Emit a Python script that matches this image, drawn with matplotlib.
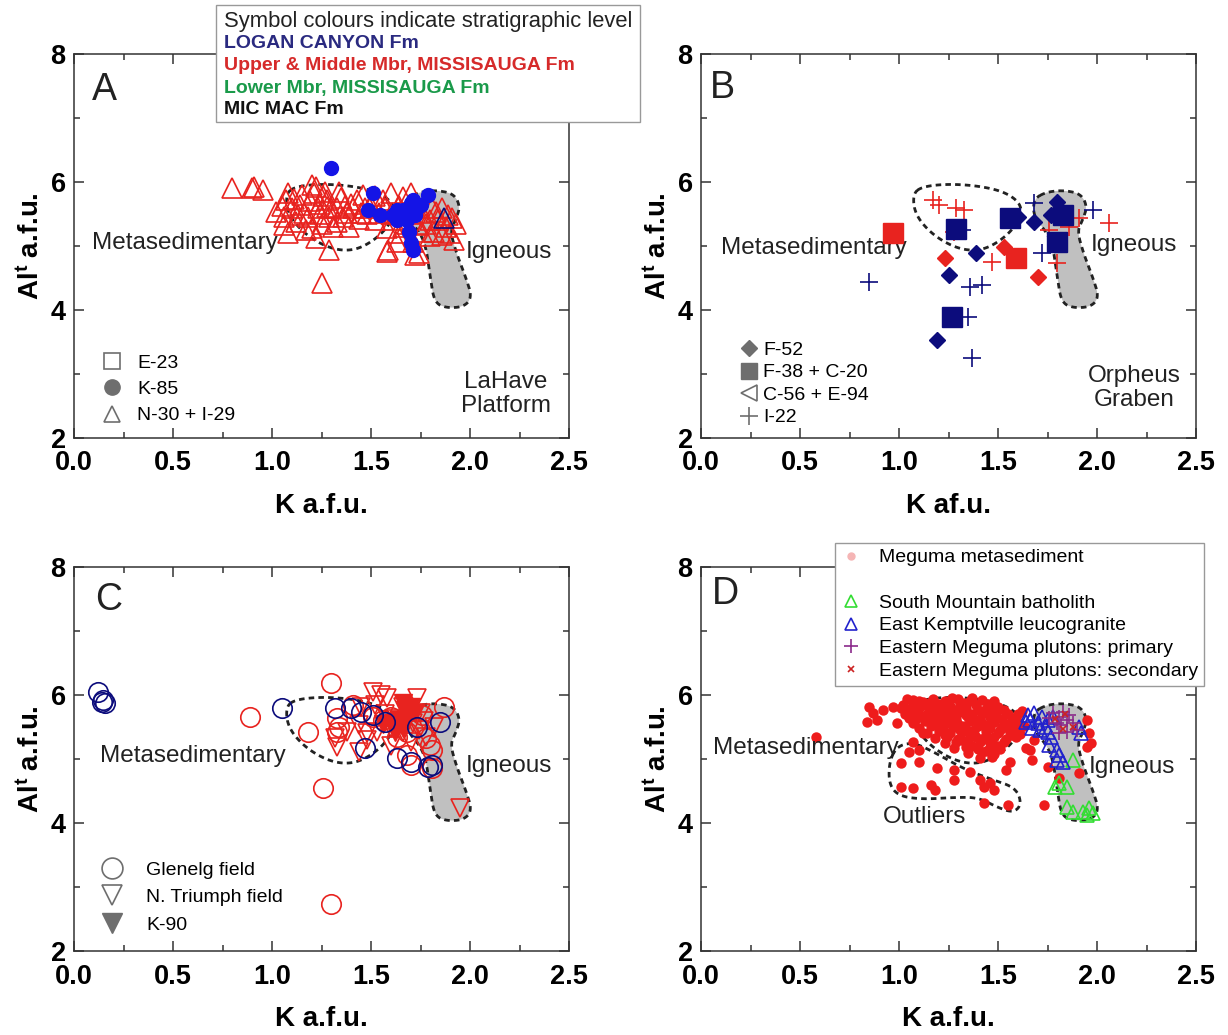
import numpy as np
import matplotlib
matplotlib.use('Agg')
import matplotlib.pyplot as plt
from matplotlib.lines import Line2D
from matplotlib.patches import Rectangle

plt.rcParams['font.family'] = ['Liberation Sans', 'DejaVu Sans']
plt.rcParams['mathtext.fontset'] = 'custom'
plt.rcParams['mathtext.rm'] = 'Liberation Sans'
plt.rcParams['mathtext.bf'] = 'Liberation Sans:bold'
plt.rcParams['mathtext.default'] = 'bf'

RED = '#e8231f'
BLUE = '#1414e6'
NAVY = '#0c0c7c'
GREEN = '#33dd33'
KBLUE = '#2222cc'
PURPLE = '#8b2a8b'
GREY = '#6e6e6e'
FILL = '#c0c0c0'

x_ticks = [0.0, 0.5, 1.0, 1.5, 2.0, 2.5]
x_tick_labels = ['0.0', '0.5', '1.0', '1.5', '2.0', '2.5']
y_ticks = [2, 4, 6, 8]
y_tick_labels = ['2', '4', '6', '8']

# ---- field outlines (K, Al) ----
igneous_field = [(1.68, 5.74), (1.75, 5.85), (1.84, 5.87), (1.92, 5.81), (1.95, 5.62),
                 (1.93, 5.42), (1.90, 5.24), (1.93, 4.90), (1.98, 4.50), (2.01, 4.20),
                 (1.97, 4.05), (1.88, 4.03), (1.82, 4.12), (1.80, 4.50), (1.78, 4.95),
                 (1.75, 5.20), (1.68, 5.45)]
metased_field = [(1.07, 5.82), (1.12, 5.93), (1.25, 5.97), (1.40, 5.94), (1.53, 5.85),
                 (1.61, 5.68), (1.62, 5.48), (1.56, 5.20), (1.46, 4.98), (1.37, 4.92),
                 (1.27, 4.99), (1.16, 5.20), (1.08, 5.50)]
outlier_field = [(0.99, 5.20), (0.95, 4.95), (0.95, 4.60), (1.00, 4.42), (1.12, 4.37),
                 (1.28, 4.40), (1.40, 4.40), (1.50, 4.24), (1.58, 4.16), (1.62, 4.30),
                 (1.59, 4.55), (1.47, 4.68), (1.33, 4.84), (1.17, 5.12), (1.07, 5.26)]

# ---- Panel A: LaHave Platform ----
a_n30_red = [(0.80, 5.91), (0.90, 5.91), (0.955, 5.88), (1.29, 4.94), (1.25, 4.42),
             (1.58, 4.91), (1.585, 4.93), (1.72, 4.86),
             (0.91, 5.92), (1.08, 5.83), (1.07, 5.72), (1.02, 5.53), (1.06, 5.45), (1.06, 5.33),
             (1.13, 5.48), (1.14, 5.64), (1.22, 5.92), (1.21, 5.83), (1.27, 5.85), (1.28, 5.72),
             (1.28, 5.61), (1.23, 5.59), (1.18, 5.45), (1.20, 5.28), (1.29, 5.45), (1.33, 5.38),
             (1.33, 5.59), (1.38, 5.52), (1.39, 5.30), (1.43, 5.72), (1.41, 5.59), (1.47, 5.59),
             (1.54, 5.52), (1.56, 5.72), (1.60, 5.83), (1.66, 5.77), (1.63, 5.20), (1.66, 5.30),
             (1.73, 5.33), (1.76, 5.22), (1.80, 5.41), (1.82, 5.22), (1.86, 5.17), (1.90, 5.20),
             (1.89, 5.48), (1.91, 5.44), (1.83, 5.53), (1.81, 5.59), (1.74, 4.89), (1.71, 5.06),
             (1.63, 5.06), (1.58, 5.28), (1.61, 5.41), (1.76, 5.52), (1.70, 5.83),
             (1.10, 5.60), (1.12, 5.38), (1.15, 5.80), (1.16, 5.52), (1.19, 5.70), (1.24, 5.50),
             (1.25, 5.35), (1.26, 5.78), (1.30, 5.60), (1.31, 5.30), (1.35, 5.75), (1.36, 5.45),
             (1.40, 5.65), (1.44, 5.42), (1.46, 5.80), (1.48, 5.50), (1.50, 5.62), (1.52, 5.40),
             (1.57, 5.60), (1.60, 5.50), (1.64, 5.62), (1.68, 5.35), (1.70, 5.50), (1.72, 5.60),
             (1.78, 5.35), (1.80, 5.15), (1.84, 5.40), (1.86, 5.60), (1.88, 5.30), (1.92, 5.10),
             (1.93, 5.35), (1.20, 5.95), (1.08, 5.20), (1.17, 5.25), (1.22, 5.12), (1.05, 5.62),
             (1.11, 5.74), (1.24, 5.66), (1.34, 5.84), (1.37, 5.62), (1.45, 5.52), (1.52, 5.78)]
a_n30_navy = [(1.87, 5.44)]
a_k85_blue = [(1.30, 6.22), (1.51, 5.83), (1.485, 5.56), (1.545, 5.48), (1.61, 5.48),
              (1.63, 5.41), (1.66, 5.56), (1.70, 5.67), (1.71, 5.72), (1.73, 5.59),
              (1.68, 5.41), (1.79, 5.80), (1.69, 5.22), (1.70, 5.05), (1.71, 4.94),
              (1.63, 5.56), (1.75, 5.64), (1.72, 5.48), (1.66, 5.45)]

# ---- Panel B: Orpheus Graben ----
b_f52_navy = [(1.60, 5.45), (1.68, 5.38), (1.39, 4.89), (1.25, 4.55), (1.80, 5.69),
              (1.77, 5.48), (1.19, 3.53)]
b_f52_red = [(1.23, 4.81), (1.53, 4.98), (1.70, 4.52)]
b_f38_navy = [(1.29, 5.27), (1.56, 5.44), (1.80, 5.06), (1.83, 5.48), (1.27, 3.89)]
b_f38_red = [(0.97, 5.20), (1.59, 4.81)]
b_i22_navy = [(0.85, 4.44), (1.36, 4.36), (1.42, 4.39), (1.35, 3.89), (1.37, 3.25),
              (1.68, 5.67), (1.72, 4.89), (1.98, 5.56), (1.32, 5.25)]
b_i22_red = [(1.17, 5.72), (1.20, 5.64), (1.29, 5.59), (1.33, 5.56), (1.28, 5.22),
             (1.47, 4.75), (1.79, 5.45), (1.76, 5.25), (1.86, 5.30), (1.91, 5.44),
             (2.06, 5.36), (1.80, 4.73)]

# ---- Panel C: Glenelg / N. Triumph ----
c_glenelg_navy = [(0.12, 6.05), (0.14, 5.89), (0.145, 5.92), (0.155, 5.87),
                  (1.05, 5.80), (1.32, 5.80), (1.40, 5.80), (1.45, 5.73), (1.51, 5.69),
                  (1.57, 5.58), (1.73, 5.50), (1.85, 5.58), (1.47, 5.17), (1.63, 5.02),
                  (1.70, 4.95), (1.81, 4.91), (1.79, 4.88)]
c_glenelg_red = [(1.30, 6.19), (0.89, 5.66), (1.18, 5.42), (1.26, 4.55), (1.33, 5.64),
                 (1.34, 5.50), (1.33, 5.42), (1.41, 5.84), (1.63, 5.34), (1.68, 5.42),
                 (1.76, 5.69), (1.78, 5.33), (1.80, 5.22), (1.81, 5.14), (1.68, 5.06),
                 (1.70, 4.91), (1.81, 4.86), (1.87, 5.81), (1.51, 5.66), (1.56, 5.61),
                 (1.60, 5.66), (1.30, 2.73)]
c_triumph_red = [(1.51, 6.05), (1.55, 6.00), (1.58, 5.95), (1.45, 5.81), (1.32, 5.33),
                 (1.33, 5.19), (1.44, 5.11), (1.44, 5.53), (1.48, 5.41), (1.53, 5.42),
                 (1.60, 5.48), (1.66, 5.42), (1.66, 5.81), (1.73, 5.95), (1.70, 5.27),
                 (1.71, 5.56), (1.75, 5.72), (1.95, 4.23), (1.57, 5.70), (1.62, 5.62),
                 (1.64, 5.52), (1.68, 5.70), (1.74, 5.45), (1.77, 5.60), (1.52, 5.85),
                 (1.48, 5.30), (1.38, 5.42), (1.60, 5.20), (1.78, 5.35), (1.82, 5.50)]
c_k90_red = [(1.66, 5.88), (1.67, 5.77), (1.69, 5.66), (1.64, 5.61), (1.61, 5.56),
             (1.66, 5.48), (1.62, 5.42), (1.56, 5.55), (1.70, 5.82), (1.72, 5.72)]

# ---- Panel D: Meguma ----
d_meguma = [(1.04, 5.93), (1.10, 5.91), (1.17, 5.94), (1.23, 5.90), (1.30, 5.93), (1.36, 5.90), (1.42, 5.92),
            (1.02, 5.85), (1.07, 5.87), (1.13, 5.84), (1.20, 5.86), (1.26, 5.83), (1.33, 5.87), (1.39, 5.84),
            (1.45, 5.86), (1.50, 5.82),
            (1.05, 5.78), (1.10, 5.80), (1.16, 5.77), (1.22, 5.79), (1.28, 5.76), (1.34, 5.80), (1.40, 5.77),
            (1.47, 5.79), (1.53, 5.76),
            (1.03, 5.71), (1.08, 5.73), (1.14, 5.70), (1.19, 5.72), (1.25, 5.69), (1.31, 5.73), (1.37, 5.70),
            (1.43, 5.72), (1.49, 5.69), (1.55, 5.71),
            (1.05, 5.64), (1.11, 5.66), (1.17, 5.63), (1.23, 5.65), (1.29, 5.62), (1.35, 5.66), (1.41, 5.63),
            (1.46, 5.65), (1.52, 5.62), (1.58, 5.64),
            (1.07, 5.57), (1.13, 5.59), (1.19, 5.56), (1.25, 5.58), (1.30, 5.55), (1.36, 5.59), (1.42, 5.56),
            (1.48, 5.58), (1.54, 5.55), (1.60, 5.57),
            (1.10, 5.49), (1.16, 5.51), (1.22, 5.48), (1.28, 5.50), (1.34, 5.47), (1.40, 5.51), (1.46, 5.48),
            (1.52, 5.50), (1.58, 5.47), (1.63, 5.52),
            (1.14, 5.41), (1.20, 5.43), (1.26, 5.40), (1.32, 5.42), (1.38, 5.39), (1.44, 5.43), (1.50, 5.40),
            (1.56, 5.42), (1.61, 5.39),
            (1.18, 5.33), (1.24, 5.35), (1.30, 5.32), (1.36, 5.34), (1.42, 5.31), (1.48, 5.35), (1.54, 5.32),
            (1.59, 5.34),
            (1.23, 5.25), (1.29, 5.27), (1.35, 5.24), (1.41, 5.26), (1.47, 5.23), (1.53, 5.27),
            (1.28, 5.17), (1.34, 5.19), (1.40, 5.16), (1.46, 5.18), (1.51, 5.15),
            (1.35, 5.09), (1.42, 5.11), (1.48, 5.08), (1.41, 5.01), (1.47, 5.03),
            (1.12, 5.89), (1.27, 5.96), (1.21, 5.61), (1.33, 5.52), (1.38, 5.46), (1.44, 5.37),
            (1.08, 5.61), (1.55, 5.48), (1.57, 5.37), (1.48, 5.90), (1.62, 5.75), (1.60, 5.70),
            (1.07, 5.92), (1.15, 5.88), (1.19, 5.82), (1.31, 5.86), (1.37, 5.95), (1.44, 5.78),
            (1.24, 5.74), (1.34, 5.69), (1.20, 5.67), (1.39, 5.60), (1.27, 5.53), (1.45, 5.53),
            (1.31, 5.45), (1.51, 5.45), (1.23, 5.37), (1.39, 5.35), (1.33, 5.28), (1.45, 5.29),
            (1.37, 5.20), (1.50, 5.21), (1.44, 5.13), (1.10, 5.69), (1.16, 5.58), (1.57, 5.59),
            # scattered / outliers
            (0.58, 5.34), (0.85, 5.81), (0.84, 5.58), (0.89, 5.61), (0.87, 5.72), (0.92, 5.77),
            (0.97, 5.81), (1.01, 5.80), (0.99, 5.56), (1.05, 5.11), (1.01, 4.94), (1.10, 4.95),
            (1.19, 4.86), (1.28, 4.83), (1.28, 4.67), (1.36, 4.80), (1.01, 4.56), (1.07, 4.55),
            (1.16, 4.59), (1.18, 4.52), (1.41, 4.67), (1.43, 4.56), (1.46, 4.62), (1.48, 4.52),
            (1.43, 4.31), (1.55, 4.28), (1.54, 4.83), (1.56, 4.95), (1.66, 5.14), (1.67, 4.98),
            (1.73, 4.28), (1.81, 4.70), (1.91, 4.78), (1.95, 5.19), (1.97, 5.25), (1.96, 5.41),
            (1.95, 5.61), (1.64, 5.17), (1.68, 5.30), (1.75, 4.88), (1.10, 5.14), (1.07, 5.27),
            (1.12, 5.41)]
d_south_mtn = [(1.88, 4.98), (1.79, 4.56), (1.81, 4.62), (1.85, 4.56), (1.85, 4.25),
               (1.88, 4.17), (1.93, 4.17), (1.96, 4.23), (1.98, 4.16), (1.95, 4.13)]
d_kemptville = [(1.65, 5.69), (1.66, 5.61), (1.68, 5.72), (1.70, 5.56), (1.72, 5.66),
                (1.74, 5.50), (1.75, 5.42), (1.77, 5.34), (1.76, 5.22), (1.80, 5.14),
                (1.81, 5.06), (1.80, 4.98), (1.83, 4.95), (1.91, 5.50), (1.92, 5.41),
                (1.64, 5.58), (1.67, 5.48), (1.71, 5.45), (1.75, 5.61), (1.78, 5.66)]
d_eastern_primary = [(1.78, 5.72), (1.81, 5.66), (1.83, 5.73), (1.85, 5.61), (1.86, 5.69),
                     (1.82, 5.53), (1.80, 5.56), (1.88, 5.56), (1.90, 5.45), (1.85, 5.42),
                     (1.81, 5.41), (1.76, 5.64)]
d_eastern_secondary = [(1.79, 5.62), (1.84, 5.70), (1.88, 5.50), (1.83, 5.47)]


def smooth(pts, n=3):
    # Chaikin corner cutting for the hand-drawn field outlines
    p = np.array(pts, float)
    for _ in range(n):
        q = np.roll(p, -1, axis=0)
        p = np.stack([0.75 * p + 0.25 * q, 0.25 * p + 0.75 * q], axis=1).reshape(-1, 2)
    return np.vstack([p, p[:1]])


def xy(pts):
    return [p[0] for p in pts], [p[1] for p in pts]


def draw_fields(ax, outlier=False):
    ig = smooth(igneous_field)
    ax.fill(ig[:, 0], ig[:, 1], color=FILL, zorder=1, lw=0)
    ax.plot(ig[:, 0], ig[:, 1], color='#222222', lw=2, dashes=(2, 1.5), zorder=1.5)
    me = smooth(metased_field)
    ax.plot(me[:, 0], me[:, 1], color='#222222', lw=2, dashes=(2, 1.5), zorder=1.5)
    if outlier:
        ou = smooth(outlier_field)
        ax.plot(ou[:, 0], ou[:, 1], color='#222222', lw=2, dashes=(2, 1.5), zorder=1.5)


def style(ax, letter, letter_xy, xlabel):
    ax.set_xlim(0, 2.5)
    ax.set_ylim(2, 8)
    ax.set_xticks(x_ticks)
    ax.set_xticklabels(x_tick_labels, fontweight='bold')
    ax.set_yticks(y_ticks)
    ax.set_yticklabels(y_tick_labels, fontweight='bold')
    ax.set_xticks([0.25, 0.75, 1.25, 1.75, 2.25], minor=True)
    ax.set_yticks([3, 5, 7], minor=True)
    ax.tick_params(which='both', direction='in', top=True, right=True, width=1.1, color='#333333')
    ax.tick_params(which='major', length=7, labelsize=19.5)
    ax.tick_params(axis='x', which='major', pad=9)
    ax.tick_params(axis='y', which='major', pad=6)
    ax.tick_params(which='minor', length=4)
    for s in ax.spines.values():
        s.set_linewidth(1.1)
        s.set_color('#333333')
    ax.set_xlabel(xlabel, fontsize=20, fontweight='bold', labelpad=12)
    ax.set_ylabel(r'Al$^{t}$ a.f.u.', fontsize=20, fontweight='bold', labelpad=4)
    ax.text(letter_xy[0], letter_xy[1], letter, transform=ax.transAxes, fontsize=27,
            ha='left', va='center', color='#222222')


def pts(ax, data, **kw):
    k, al = xy(data)
    ax.plot(k, al, ls='none', **kw)


fig = plt.figure(figsize=(12.28, 10.35), dpi=100)
W, H = 1228, 1035
axA = fig.add_axes([74 / W, 1 - 438 / H, 495 / W, 384 / H])
axB = fig.add_axes([701 / W, 1 - 438 / H, 495 / W, 384 / H])
axC = fig.add_axes([74 / W, 1 - 951 / H, 495 / W, 384 / H])
axD = fig.add_axes([701 / W, 1 - 951 / H, 495 / W, 384 / H])

TXT = dict(fontsize=17.5, color='#222222')

# ---- A ----
draw_fields(axA)
pts(axA, a_n30_red, marker='^', ms=14, mfc='none', mec=RED, mew=1.2, zorder=3)
pts(axA, a_n30_navy, marker='^', ms=14, mfc='none', mec=NAVY, mew=1.2, zorder=4)
pts(axA, a_k85_blue, marker='o', ms=10, mfc=BLUE, mec=BLUE, zorder=5)
style(axA, 'A', (0.036, 0.906), 'K a.f.u.')
axA.text(0.09, 5.05, 'Metasedimentary', ha='left', va='center', **TXT)
axA.text(1.98, 4.91, 'Igneous', ha='left', va='center', **TXT)
axA.text(2.18, 2.69, 'LaHave\nPlatform', ha='center', va='center', linespacing=1.15, **TXT)
legA = [Line2D([], [], ls='none', marker='s', ms=12, mfc='none', mec=GREY, mew=1.2),
        Line2D([], [], ls='none', marker='o', ms=11, mfc=GREY, mec=GREY),
        Line2D([], [], ls='none', marker='^', ms=12, mfc='none', mec=GREY, mew=1.2)]
axA.legend(legA, ['E-23', 'K-85', 'N-30 + I-29'], loc='lower left', bbox_to_anchor=(0.025, 0.0),
           frameon=False, fontsize=14, handlelength=1.2, handletextpad=0.7, labelspacing=0.45,
           borderpad=0.2)

# ---- B ----
draw_fields(axB)
pts(axB, b_i22_navy, marker='+', ms=13, mec=NAVY, mew=1.2, zorder=3)
pts(axB, b_i22_red, marker='+', ms=13, mec=RED, mew=1.2, zorder=3)
pts(axB, b_f38_navy, marker='s', ms=14, mfc=NAVY, mec=NAVY, zorder=4)
pts(axB, b_f38_red, marker='s', ms=14, mfc=RED, mec=RED, zorder=4)
pts(axB, b_f52_navy, marker='D', ms=8.5, mfc=NAVY, mec=NAVY, zorder=5)
pts(axB, b_f52_red, marker='D', ms=8.5, mfc=RED, mec=RED, zorder=5)
style(axB, 'B', (0.018, 0.911), 'K af.u.')
axB.text(0.10, 4.97, 'Metasedimentary', ha='left', va='center', **TXT)
axB.text(1.97, 5.02, 'Igneous', ha='left', va='center', **TXT)
axB.text(2.19, 2.78, 'Orpheus\nGraben', ha='center', va='center', linespacing=1.15, **TXT)
legB = [Line2D([], [], ls='none', marker='D', ms=8, mfc=GREY, mec=GREY),
        Line2D([], [], ls='none', marker='s', ms=12, mfc=GREY, mec=GREY),
        Line2D([], [], ls='none', marker='<', ms=12, mfc='none', mec=GREY, mew=1.2),
        Line2D([], [], ls='none', marker='+', ms=13, mec=GREY, mew=1.2)]
axB.legend(legB, ['F-52', 'F-38 + C-20', 'C-56 + E-94', 'I-22'], loc='lower left',
           bbox_to_anchor=(0.055, 0.0), frameon=False, fontsize=14, handlelength=0.9,
           handletextpad=0.3, labelspacing=0.25, borderpad=0.1)

# ---- C ----
draw_fields(axC)
pts(axC, c_glenelg_red, marker='o', ms=14, mfc='none', mec=RED, mew=1.2, zorder=3)
pts(axC, c_triumph_red, marker='v', ms=13, mfc='none', mec=RED, mew=1.2, zorder=3)
pts(axC, c_k90_red, marker='v', ms=13, mfc=RED, mec=RED, zorder=4)
pts(axC, c_glenelg_navy, marker='o', ms=14, mfc='none', mec=NAVY, mew=1.2, zorder=5)
style(axC, 'C', (0.042, 0.914), 'K a.f.u.')
axC.text(0.13, 5.05, 'Metasedimentary', ha='left', va='center', **TXT)
axC.text(1.98, 4.89, 'Igneous', ha='left', va='center', **TXT)
legC = [Line2D([], [], ls='none', marker='o', ms=15, mfc='none', mec=GREY, mew=1.2),
        Line2D([], [], ls='none', marker='v', ms=15, mfc='none', mec=GREY, mew=1.2),
        Line2D([], [], ls='none', marker='v', ms=15, mfc=GREY, mec=GREY)]
axC.legend(legC, ['Glenelg field', 'N. Triumph field', 'K-90'], loc='lower left',
           bbox_to_anchor=(0.02, 0.01), frameon=False, fontsize=14, handlelength=1.5,
           handletextpad=1.0, labelspacing=0.5, borderpad=0.2)

# ---- D ----
draw_fields(axD, outlier=True)
pts(axD, d_meguma, marker='o', ms=7.5, mfc='#ee1c1c', mec='#ee1c1c', mew=0, zorder=3)
pts(axD, d_south_mtn, marker='^', ms=10, mfc='none', mec=GREEN, mew=1.2, zorder=4)
pts(axD, d_kemptville, marker='^', ms=10, mfc='none', mec=KBLUE, mew=1.2, zorder=4)
pts(axD, d_eastern_primary, marker='+', ms=10, mec=PURPLE, mew=1.2, zorder=5)
pts(axD, d_eastern_secondary, marker='x', ms=5, mec='#cc2222', mew=1.2, zorder=5)
style(axD, 'D', (0.022, 0.93), 'K a.f.u.')
axD.text(0.06, 5.17, 'Metasedimentary', ha='left', va='center', zorder=6, **TXT)
axD.text(1.96, 4.875, 'Igneous', ha='left', va='center', **TXT)
axD.text(0.92, 4.09, 'Outliers', ha='left', va='center', **TXT)
legD = [Line2D([], [], ls='none', marker='o', ms=5, mfc='#f5b5b5', mec='#f5b5b5'),
        Line2D([], [], ls='none'),
        Line2D([], [], ls='none', marker='^', ms=9, mfc='none', mec=GREEN, mew=1.2),
        Line2D([], [], ls='none', marker='^', ms=9, mfc='none', mec=KBLUE, mew=1.2),
        Line2D([], [], ls='none', marker='+', ms=10, mec=PURPLE, mew=1.2),
        Line2D([], [], ls='none', marker='x', ms=5, mec='#cc2222', mew=1.2)]
axD.legend(legD, ['Meguma metasediment', ' ', 'South Mountain batholith',
                  'East Kemptville leucogranite', 'Eastern Meguma plutons: primary',
                  'Eastern Meguma plutons: secondary'],
           loc='upper left', bbox_to_anchor=(835 / W, 1 - 543 / H), bbox_transform=fig.transFigure,
           fontsize=14, frameon=True, fancybox=False, edgecolor='#999999', framealpha=1,
           handlelength=1.0, handletextpad=0.95, labelspacing=0.26, borderpad=0.3, borderaxespad=0)

# ---- stratigraphic colour key (top) ----
fig.add_artist(Rectangle((216 / W, 1 - 122 / H), 424 / W, 117 / H, transform=fig.transFigure,
                         facecolor='white', edgecolor='#999999', lw=1, zorder=5))
key_lines = ['Symbol colours indicate stratigraphic level', 'LOGAN CANYON Fm',
             'Upper & Middle Mbr, MISSISAUGA Fm', 'Lower Mbr, MISSISAUGA Fm', 'MIC MAC Fm']
key_colors = ['#222222', '#2a2a80', '#d62a2a', '#1a9a4a', '#111111']
key_weights = ['normal', 'bold', 'bold', 'bold', 'bold']
key_sizes = [15.8, 14, 14, 14, 14]
key_y = [21, 44, 66, 88, 109]
for t, c, w, s, yy in zip(key_lines, key_colors, key_weights, key_sizes, key_y):
    fig.text(224 / W, 1 - yy / H, t, color=c, fontweight=w, fontsize=s, va='center', ha='left', zorder=6)

fig.savefig('out.png', dpi=100)
